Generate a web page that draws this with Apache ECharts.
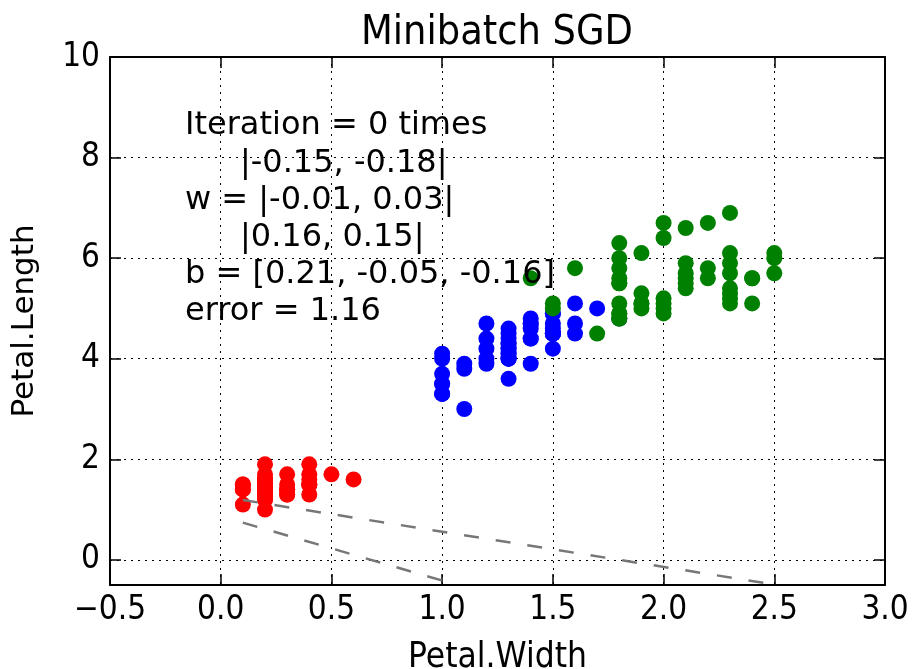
<!DOCTYPE html>
<html>
<head>
<meta charset="utf-8">
<title>Minibatch SGD</title>
<script src="https://cdn.jsdelivr.net/npm/echarts@6/dist/echarts.min.js"></script>
<style>
  html, body { margin: 0; padding: 0; background: #fff; }
  #chart { width: 912px; height: 669px; }
</style>
</head>
<body>
<div id="chart"></div>
<script>
// Iris petal measurements: [Petal.Width, Petal.Length]
const setosa = [
  [0.2,1.4],[0.2,1.4],[0.2,1.3],[0.2,1.5],[0.2,1.4],[0.4,1.7],[0.3,1.4],[0.2,1.5],[0.2,1.4],[0.1,1.5],
  [0.2,1.5],[0.2,1.6],[0.1,1.4],[0.1,1.1],[0.2,1.2],[0.4,1.5],[0.4,1.3],[0.3,1.4],[0.3,1.7],[0.3,1.5],
  [0.2,1.7],[0.4,1.5],[0.2,1.0],[0.5,1.7],[0.2,1.9],[0.2,1.6],[0.4,1.6],[0.2,1.5],[0.2,1.4],[0.2,1.6],
  [0.2,1.6],[0.4,1.5],[0.1,1.5],[0.2,1.4],[0.2,1.5],[0.2,1.2],[0.2,1.3],[0.1,1.4],[0.2,1.3],[0.2,1.5],
  [0.3,1.3],[0.3,1.3],[0.2,1.3],[0.6,1.6],[0.4,1.9],[0.3,1.4],[0.2,1.6],[0.2,1.4],[0.2,1.5],[0.2,1.4]
];
const versicolor = [
  [1.4,4.7],[1.5,4.5],[1.5,4.9],[1.3,4.0],[1.5,4.6],[1.3,4.5],[1.6,4.7],[1.0,3.3],[1.3,4.6],[1.4,3.9],
  [1.0,3.5],[1.5,4.2],[1.0,4.0],[1.4,4.7],[1.3,3.6],[1.4,4.4],[1.5,4.5],[1.0,4.1],[1.5,4.5],[1.1,3.9],
  [1.8,4.8],[1.3,4.0],[1.5,4.9],[1.2,4.7],[1.3,4.3],[1.4,4.4],[1.4,4.8],[1.7,5.0],[1.5,4.5],[1.0,3.5],
  [1.1,3.8],[1.0,3.7],[1.2,3.9],[1.6,5.1],[1.5,4.5],[1.6,4.5],[1.5,4.7],[1.3,4.4],[1.3,4.1],[1.3,4.0],
  [1.2,4.4],[1.4,4.6],[1.2,4.0],[1.0,3.3],[1.3,4.2],[1.2,4.2],[1.3,4.2],[1.3,4.3],[1.1,3.0],[1.3,4.1]
];
const virginica = [
  [2.5,6.0],[1.9,5.1],[2.1,5.9],[1.8,5.6],[2.2,5.8],[2.1,6.6],[1.7,4.5],[1.8,6.3],[1.8,5.8],[2.5,6.1],
  [2.0,5.1],[1.9,5.3],[2.1,5.5],[2.0,5.0],[2.4,5.1],[2.3,5.3],[1.8,5.5],[2.2,6.7],[2.3,6.9],[1.5,5.0],
  [2.3,5.7],[2.0,4.9],[2.0,6.7],[1.8,4.9],[2.1,5.7],[1.8,6.0],[1.8,4.8],[1.8,4.9],[2.1,5.6],[1.6,5.8],
  [1.9,6.1],[2.0,6.4],[2.2,5.6],[1.5,5.1],[1.4,5.6],[2.3,6.1],[2.4,5.6],[1.8,5.5],[1.8,4.8],[2.1,5.4],
  [2.4,5.6],[2.3,5.1],[1.9,5.1],[2.3,5.9],[2.5,5.7],[2.3,5.2],[1.9,5.0],[2.0,5.2],[2.3,5.4],[1.8,5.1]
];

// Class boundary segments (endpoints in data units)
const boundary01 = [[0.1, 1.19], [2.5, -0.49]];
const boundary12 = [[0.1, 0.74], [1.07, -0.5]];

// Axis ranges and labelled ticks
const xRange = [-0.5, 3.0];
const yRange = [-0.5, 10];
const yTicks = [0, 2, 4, 6, 8, 10];

// Annotation lines
const infoLines = [
  'Iteration = 0 times',
  '|-0.15, -0.18|',
  'w = |-0.01, 0.03|',
  '|0.16, 0.15|',
  'b = [0.21, -0.05, -0.16]',
  'error = 1.16'
];
const infoIndent = [0, 1, 0, 1, 0, 0];

const chart = echarts.init(document.getElementById('chart'), null, { renderer: 'canvas' });

const tickFont = '"DejaVu Sans Condensed", "DejaVu Sans", sans-serif';
const gridDots = { show: true, lineStyle: { color: '#000', width: 1, type: [2, 5] } };
const innerTick = { show: true, inside: true, length: 11, lineStyle: { color: '#000', width: 1.5 } };
const frameLine = { show: true, onZero: false, lineStyle: { color: '#000', width: 2 } };

const PLOT_LEFT = 110, PLOT_TOP = 57;

chart.setOption({
  animation: false,
  backgroundColor: '#fff',
  title: {
    text: 'Minibatch SGD',
    left: 492, top: 8, textAlign: 'center',
    textStyle: { fontFamily: tickFont, fontSize: 41, fontWeight: 'normal', color: '#000' }
  },
  grid: { left: PLOT_LEFT, right: 27, top: PLOT_TOP, bottom: 84, containLabel: false, outerBoundsMode: 'none' },
  xAxis: [
    {
      type: 'value', position: 'bottom', min: xRange[0], max: xRange[1], interval: 0.5,
      axisLine: frameLine, axisTick: innerTick, splitLine: gridDots,
      axisLabel: {
        fontFamily: tickFont, fontSize: 33, color: '#000', margin: 9,
        formatter: v => (v < 0 ? '\u2212' : '') + Math.abs(v).toFixed(1)
      },
      name: 'Petal.Width', nameLocation: 'middle', nameGap: 55,
      nameTextStyle: { fontFamily: tickFont, fontSize: 35, color: '#000' }
    },
    {
      type: 'value', position: 'top', min: xRange[0], max: xRange[1], interval: 0.5,
      axisLine: frameLine, axisTick: innerTick, splitLine: { show: false },
      axisLabel: { show: false }
    }
  ],
  yAxis: [
    {
      type: 'value', position: 'left', min: yRange[0], max: yRange[1],
      axisLine: frameLine,
      axisTick: Object.assign({}, innerTick, { customValues: yTicks }),
      splitLine: gridDots,
      axisLabel: {
        fontFamily: tickFont, fontSize: 33, color: '#000', margin: 10,
        customValues: yTicks
      },
      name: 'Petal.Length', nameLocation: 'middle', nameGap: 70, nameRotate: 90,
      nameTextStyle: { fontFamily: '"DejaVu Sans", sans-serif', fontSize: 31, color: '#000' }
    },
    {
      type: 'value', position: 'right', min: yRange[0], max: yRange[1],
      axisLine: frameLine,
      axisTick: Object.assign({}, innerTick, { customValues: yTicks }),
      splitLine: { show: false },
      axisLabel: { show: false, customValues: yTicks }
    }
  ],
  series: [
    {
      type: 'scatter', data: setosa, symbolSize: 16,
      itemStyle: { color: '#ff0000', opacity: 1 }, z: 3
    },
    {
      type: 'scatter', data: versicolor, symbolSize: 16,
      itemStyle: { color: '#0000ff', opacity: 1 }, z: 3
    },
    {
      type: 'scatter', data: virginica, symbolSize: 16,
      itemStyle: { color: '#008000', opacity: 1 }, z: 3
    },
    {
      type: 'line', data: boundary01, symbol: 'none', clip: true, z: 4,
      lineStyle: { color: '#777', width: 2.5, type: [15, 17] }
    },
    {
      type: 'line', data: boundary12, symbol: 'none', clip: true, z: 4,
      lineStyle: { color: '#777', width: 2.5, type: [15, 17] }
    }
  ],
  graphic: infoLines.map((line, i) => ({
    type: 'text',
    left: 185 + infoIndent[i] * 55,
    top: 110 + i * 37.2,
    z: 10,
    style: {
      text: line,
      fontFamily: '"DejaVu Sans", sans-serif',
      fontSize: 32,
      fill: '#000'
    }
  }))
});
</script>
</body>
</html>
